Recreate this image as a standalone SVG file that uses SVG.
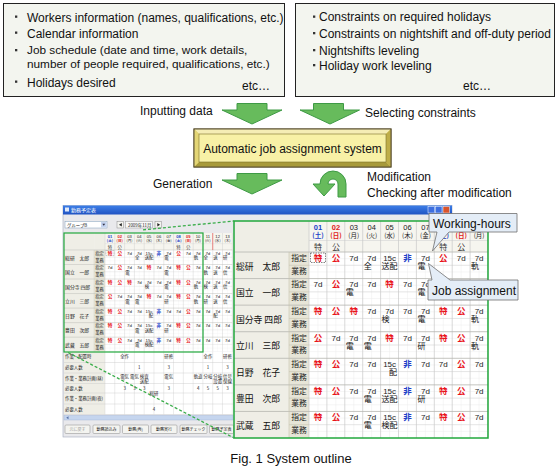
<svg xmlns="http://www.w3.org/2000/svg" width="558" height="469" viewBox="0 0 558 469">
<style>
.t{font-family:"Liberation Sans",Arial,sans-serif;font-size:12px;fill:#111}
.box{fill:#f3f5ef;stroke:#222;stroke-width:1}
.bul{fill:#333}
.arr{fill:#67bb5c;stroke:#3e9a45;stroke-width:1}
.nm{font-family:"Noto Sans CJK JP",sans-serif;font-size:8.8px;fill:#111}
.lb{font-family:"Noto Sans CJK JP",sans-serif;font-size:7.8px;fill:#222;text-anchor:middle}
.d{font-family:"Liberation Sans","Noto Sans CJK JP",sans-serif;font-size:8px;fill:#222;text-anchor:middle}
.j{font-family:"Noto Sans CJK JP",sans-serif;font-size:8px;fill:#111}
.r{fill:#e8141b;font-weight:bold;font-family:"Noto Sans CJK JP",sans-serif;font-size:8.5px}
.b{fill:#1d3fc8;font-weight:bold;font-family:"Noto Sans CJK JP",sans-serif;font-size:8.5px}
.hn{font-family:"Liberation Sans",sans-serif;font-size:7.5px;fill:#222;text-anchor:middle}
.hd{font-family:"Noto Sans CJK JP",sans-serif;font-size:6.5px;fill:#222;text-anchor:middle}
.sb{fill:#1d3fc8;font-weight:bold}
.sr{fill:#e01b1b;font-weight:bold}
.tiny{font-family:"Noto Sans CJK JP",sans-serif;font-size:4.4px;fill:#222}
.tc{text-anchor:middle}
.co{fill:#e4edf7;stroke:#707070;stroke-width:0.8}
.gl{fill:none;stroke:#22a83c;stroke-width:1.5}
.dash{fill:none;stroke:#3aad4a;stroke-width:1.3;stroke-dasharray:3 2}
.btn{fill:#f4f4f0;stroke:#8a8a8a;stroke-width:0.5}
</style>
<defs>
<linearGradient id="tb" x1="0" y1="0" x2="0" y2="1"><stop offset="0" stop-color="#3d7fe8"/><stop offset="1" stop-color="#1f52c2"/></linearGradient>
<clipPath id="cBig"><rect x="234" y="221" width="254" height="217"/></clipPath>
<clipPath id="cTh"><rect x="64" y="233" width="169" height="119"/></clipPath>
<g id="tbl">
 <rect x="234" y="221" width="307.7" height="217" fill="#fff"/>
 <rect x="234" y="221" width="55" height="217" fill="#efeee6"/>
 <rect x="289" y="221" width="20" height="31" fill="#efeee6"/>
 <rect x="289" y="252" width="20" height="186" fill="#e7e5d7"/>
 <rect x="309" y="221" width="232.7" height="31" fill="#f6f5ef"/>
 <path fill="none" stroke="#ececec" stroke-width="0.5" d="M317.95 252V438M335.85 252V438M353.75 252V438M371.65 252V438M389.55 252V438M407.45 252V438M425.35 252V438M443.25 252V438M461.15 252V438M479.05 252V438M496.95 252V438M514.85 252V438M532.75 252V438M309 258.64H541.7M309 271.93H541.7M309 285.21H541.7M309 298.5H541.7M309 311.78H541.7M309 325.07H541.7M309 338.35H541.7M309 351.64H541.7M309 364.93H541.7M309 378.22H541.7M309 391.5H541.7M309 404.79H541.7M309 418.07H541.7M309 431.36H541.7"/>
 <path fill="none" stroke="#d4d4d4" stroke-width="0.6" d="M309 265.29H541.7M309 291.86H541.7M309 318.43H541.7M309 345H541.7M309 371.57H541.7M309 398.14H541.7M309 424.71H541.7M309 240.5H541.7"/>
 <path fill="none" stroke="#c8c8c8" stroke-width="0.7" d="M309 221V438M326.9 221V438M344.8 221V438M362.7 221V438M380.6 221V438M398.5 221V438M416.4 221V438M434.3 221V438M452.2 221V438M470.1 221V438M488 221V438M505.9 221V438M523.8 221V438M541.7 221V438"/>
 <path fill="none" stroke="#b5b5b0" stroke-width="0.8" d="M234 252H541.7M234 278.57H541.7M234 305.14H541.7M234 331.71H541.7M234 358.29H541.7M234 384.86H541.7M234 411.43H541.7"/>
 <path fill="none" stroke="#c8c5b0" stroke-width="0.6" d="M289 252V438M289 265.29H309M289 291.86H309M289 318.43H309M289 345H309M289 371.57H309M289 398.14H309M289 424.71H309"/>
 <path d="M505.9 221V252" stroke="#e33" stroke-width="1"/>
 <text class="hn" y="230"><tspan x="318" class="sb">01</tspan><tspan x="335.9" class="sr">02</tspan><tspan x="353.8">03</tspan><tspan x="371.7">04</tspan><tspan x="389.6">05</tspan><tspan x="407.5">06</tspan><tspan x="425.4">07</tspan><tspan x="443.3" class="sb">08</tspan><tspan x="461.2" class="sr">09</tspan><tspan x="479.1">10</tspan><tspan x="497">11</tspan><tspan x="514.9">12</tspan><tspan x="532.8">13</tspan></text>
 <text class="hd" y="238"><tspan x="318" class="sb">(土)</tspan><tspan x="335.9" class="sr">(日)</tspan><tspan x="353.8">(月)</tspan><tspan x="371.7">(火)</tspan><tspan x="389.6">(水)</tspan><tspan x="407.5">(木)</tspan><tspan x="425.4">(金)</tspan><tspan x="443.3" class="sb">(土)</tspan><tspan x="461.2" class="sr">(日)</tspan><tspan x="479.1">(月)</tspan><tspan x="497">(火)</tspan><tspan x="514.9">(水)</tspan><tspan x="532.8">(木)</tspan></text>
 <text class="d" y="249.5" style="fill:#333"><tspan x="318">特</tspan><tspan x="335.9">公</tspan><tspan x="443.3">特</tspan><tspan x="461.2">公</tspan></text>
 <rect x="310.5" y="253" width="15" height="9.5" fill="none" stroke="#333" stroke-width="0.6" stroke-dasharray="1.5 1"/>
 <g transform="translate(0,252)">
  <text class="nm" x="236" y="17.5">総研　太郎</text><text class="lb" x="299" y="8.8">指定</text><text class="lb" x="299" y="21.5">業務</text>
  <text class="d" y="8.8"><tspan class="r" x="318">特</tspan><tspan class="r" x="335.9">公</tspan><tspan x="353.8">7d</tspan><tspan x="371.7">7d</tspan><tspan x="389.6">15c</tspan><tspan class="b" x="407.5">非</tspan><tspan x="425.4">7d</tspan><tspan class="r" x="443.3">公</tspan><tspan x="461.2">7d</tspan><tspan x="479.1">7d</tspan><tspan x="497">7d</tspan><tspan x="514.9">7d</tspan><tspan x="532.8">7d</tspan></text>
  <text class="j" y="16.8"><tspan x="363.7">全</tspan><tspan x="381.6">送配</tspan><tspan x="417.4">電</tspan><tspan x="471.1">軌</tspan><tspan x="489">全</tspan><tspan x="506.9">送</tspan><tspan x="524.8">研</tspan></text>
 </g>
 <g transform="translate(0,278.57)">
  <text class="nm" x="236" y="17.5">国立　一郎</text><text class="lb" x="299" y="8.8">指定</text><text class="lb" x="299" y="21.5">業務</text>
  <text class="d" y="8.8"><tspan x="318">7d</tspan><tspan class="r" x="335.9">公</tspan><tspan x="353.8">7d</tspan><tspan x="371.7">7d</tspan><tspan class="r" x="389.6">特</tspan><tspan x="407.5">7d</tspan><tspan x="425.4">7d</tspan><tspan class="r" x="443.3">特</tspan><tspan class="r" x="461.2">公</tspan><tspan x="479.1">7d</tspan><tspan x="497">7d</tspan><tspan x="514.9">7d</tspan><tspan x="532.8">7d</tspan></text>
  <text class="j" y="16.8"><tspan x="345.8">電</tspan><tspan x="417.4">電</tspan><tspan x="489">軌</tspan><tspan x="506.9">送</tspan><tspan x="524.8">信</tspan></text>
 </g>
 <g transform="translate(0,305.14)">
  <text class="nm" x="236" y="17.5">国分寺 四郎</text><text class="lb" x="299" y="8.8">指定</text><text class="lb" x="299" y="21.5">業務</text>
  <text class="d" y="8.8"><tspan class="r" x="318">特</tspan><tspan class="r" x="335.9">公</tspan><tspan class="r" x="353.8">特</tspan><tspan x="371.7">7d</tspan><tspan x="389.6">7d</tspan><tspan x="407.5">7d</tspan><tspan x="425.4">7d</tspan><tspan class="r" x="443.3">特</tspan><tspan class="r" x="461.2">公</tspan><tspan x="479.1">7d</tspan><tspan x="497">7d</tspan><tspan x="514.9">7d</tspan><tspan x="532.8">7d</tspan></text>
  <text class="j" y="16.8"><tspan x="381.6">検</tspan><tspan x="417.4">電</tspan><tspan x="471.1">軌</tspan><tspan x="489">検</tspan><tspan x="506.9">送</tspan><tspan x="524.8">信</tspan></text>
 </g>
 <g transform="translate(0,331.71)">
  <text class="nm" x="236" y="17.5">立川　三郎</text><text class="lb" x="299" y="8.8">指定</text><text class="lb" x="299" y="21.5">業務</text>
  <text class="d" y="8.8"><tspan class="r" x="318">公</tspan><tspan x="335.9">7d</tspan><tspan x="353.8">7d</tspan><tspan x="371.7">7d</tspan><tspan class="r" x="389.6">特</tspan><tspan x="407.5">7d</tspan><tspan x="425.4">7d</tspan><tspan class="r" x="443.3">特</tspan><tspan class="r" x="461.2">公</tspan><tspan x="479.1">7d</tspan><tspan x="497">7d</tspan><tspan x="514.9">7d</tspan><tspan x="532.8">7d</tspan></text>
  <text class="j" y="16.8"><tspan x="345.8">電</tspan><tspan x="363.7">電</tspan><tspan x="417.4">研</tspan><tspan x="471.1">軌</tspan><tspan x="489">研</tspan><tspan x="506.9">送</tspan><tspan x="524.8">信</tspan></text>
 </g>
 <g transform="translate(0,358.29)">
  <text class="nm" x="236" y="17.5">日野　花子</text><text class="lb" x="299" y="8.8">指定</text><text class="lb" x="299" y="21.5">業務</text>
  <text class="d" y="8.8"><tspan class="r" x="318">特</tspan><tspan class="r" x="335.9">公</tspan><tspan x="353.8">7d</tspan><tspan x="371.7">7d</tspan><tspan x="389.6">15c</tspan><tspan class="b" x="407.5">非</tspan><tspan x="425.4">7d</tspan><tspan x="443.3">7d</tspan><tspan class="r" x="461.2">公</tspan><tspan x="479.1">7d</tspan><tspan x="497">7d</tspan><tspan x="514.9">7d</tspan><tspan x="532.8">7d</tspan></text>
  <text class="j" y="16.8"><tspan x="389">配</tspan><tspan x="506.9">配</tspan></text>
 </g>
 <g transform="translate(0,384.86)">
  <text class="nm" x="236" y="17.5">豊田　次郎</text><text class="lb" x="299" y="8.8">指定</text><text class="lb" x="299" y="21.5">業務</text>
  <text class="d" y="8.8"><tspan class="r" x="318">特</tspan><tspan class="r" x="335.9">公</tspan><tspan x="353.8">7d</tspan><tspan x="371.7">7d</tspan><tspan x="389.6">15c</tspan><tspan class="b" x="407.5">非</tspan><tspan x="425.4">7d</tspan><tspan class="r" x="443.3">特</tspan><tspan class="r" x="461.2">公</tspan><tspan x="479.1">7d</tspan><tspan x="497">7d</tspan><tspan x="514.9">7d</tspan><tspan x="532.8">7d</tspan></text>
  <text class="j" y="16.8"><tspan x="363.7">電</tspan><tspan x="381.6">送配</tspan><tspan x="417.4">研</tspan></text>
 </g>
 <g transform="translate(0,411.43)">
  <text class="nm" x="236" y="17.5">武蔵　五郎</text><text class="lb" x="299" y="8.8">指定</text><text class="lb" x="299" y="21.5">業務</text>
  <text class="d" y="8.8"><tspan class="r" x="318">特</tspan><tspan class="r" x="335.9">公</tspan><tspan x="353.8">7d</tspan><tspan x="371.7">7d</tspan><tspan x="389.6">15c</tspan><tspan class="b" x="407.5">非</tspan><tspan x="425.4">7d</tspan><tspan class="r" x="443.3">特</tspan><tspan class="r" x="461.2">公</tspan><tspan x="479.1">7d</tspan><tspan x="497">7d</tspan><tspan x="514.9">7d</tspan><tspan x="532.8">7d</tspan></text>
  <text class="j" y="16.8"><tspan x="363.7">電</tspan><tspan x="381.6">検配</tspan></text>
 </g>
</g>
</defs>
<rect width="558" height="469" fill="#fff"/>

<g id="input-data">
 <rect class="box" x="3.5" y="3.5" width="281" height="93"/>
 <rect class="bul" x="15" y="15.5" width="2.3" height="2.3"/>
 <rect class="bul" x="15" y="31.5" width="2.3" height="2.3"/>
 <rect class="bul" x="15" y="49" width="2.3" height="2.3"/>
 <rect class="bul" x="15" y="80.5" width="2.3" height="2.3"/>
 <text class="t" x="27" y="21.5">Workers information (names, qualifications, etc.)</text>
 <text class="t" x="27" y="37.5">Calendar information</text>
 <text class="t" x="27" y="54.3" style="font-size:11.8px">Job schedule (date and time, work details,</text>
 <text class="t" x="27" y="68.3" style="font-size:11.8px">number of people required, qualifications, etc.)</text>
 <text class="t" x="27" y="86.5">Holidays desired</text>
 <text class="t" x="242" y="89.5">etc…</text>
</g>

<g id="constraints">
 <rect class="box" x="295.5" y="3.5" width="259" height="93"/>
 <rect class="bul" x="313" y="15.5" width="2.3" height="2.3"/>
 <rect class="bul" x="313" y="32" width="2.3" height="2.3"/>
 <rect class="bul" x="313" y="49" width="2.3" height="2.3"/>
 <rect class="bul" x="313" y="64" width="2.3" height="2.3"/>
 <text class="t" x="319" y="21">Constraints on required holidays</text>
 <text class="t" x="319" y="37.5">Constraints on nightshift and off-duty period</text>
 <text class="t" x="319" y="54.5">Nightshifts leveling</text>
 <text class="t" x="319" y="69.5">Holiday work leveling</text>
 <text class="t" x="463" y="90">etc…</text>
</g>

<g id="system">
 <rect x="194" y="129" width="197" height="38" fill="#d8c85a" stroke="#5a5030" stroke-width="1"/>
 <polygon points="194,129 391,129 386,134 199,134" fill="#f5edb5"/>
 <polygon points="194,167 391,167 386,162 199,162" fill="#a89a3a"/>
 <polygon points="194,129 199,134 199,162 194,167" fill="#e4d676"/>
 <polygon points="391,129 386,134 386,162 391,167" fill="#bfae48"/>
 <rect x="194" y="129" width="197" height="38" fill="none" stroke="#5a5030" stroke-width="1"/>
 <rect x="199" y="134" width="187" height="28" fill="#f8f1a6" stroke="#7a6e2a" stroke-width="0.6"/>
 <text class="t" x="292.5" y="152.5" text-anchor="middle">Automatic job assignment system</text>
</g>

<g id="labels">
 <text class="t" x="140" y="115">Inputting data</text>
 <text class="t" x="365" y="117">Selecting constraints</text>
 <text class="t" x="153" y="188">Generation</text>
 <text class="t" x="367" y="181">Modification</text>
 <text class="t" x="367" y="197">Checking after modification</text>
</g>

<g id="screenshot">
 <rect x="63" y="205.5" width="389" height="231.5" fill="#e9e9ec" stroke="#a0a8bc" stroke-width="0.6"/>
 <rect x="63" y="205.5" width="389" height="9" fill="url(#tb)"/>
 <rect x="65" y="207.5" width="4" height="4" fill="#fff" opacity="0.85"/>
 <text x="71" y="212.3" style="font-family:'Noto Sans CJK JP',sans-serif;font-size:5px;fill:#fff">勤務予定表</text>
 <rect x="428" y="206.5" width="6.5" height="6.5" fill="#3d6fe0" stroke="#fff" stroke-width="0.5"/>
 <rect x="435.5" y="206.5" width="6.5" height="6.5" fill="#3d6fe0" stroke="#fff" stroke-width="0.5"/>
 <rect x="443" y="206.5" width="6.5" height="6.5" fill="#d9542c" stroke="#fff" stroke-width="0.5"/>
 <rect x="65" y="221.5" width="42" height="6.5" fill="#fff" stroke="#7f9db9" stroke-width="0.5"/>
 <rect x="101" y="222" width="5.5" height="5.5" fill="#c4d3f0"/>
 <polygon points="102.3,223.8 105.2,223.8 103.75,225.8" fill="#334"/>
 <text class="tiny" x="67" y="226.5">グループB</text>
 <rect class="btn" x="117" y="221.5" width="6.5" height="6.5"/>
 <polygon points="121.8,223 121.8,226.5 119,224.75" fill="#222"/>
 <rect x="125.5" y="221.5" width="27" height="6.5" fill="#f8f8f8" stroke="#999" stroke-width="0.5"/>
 <text class="tiny" x="128" y="226.5">2009年11月</text>
 <rect class="btn" x="155" y="221.5" width="6.5" height="6.5"/>
 <polygon points="157.3,223 157.3,226.5 160.1,224.75" fill="#222"/>
 <g clip-path="url(#cTh)"><use href="#tbl" transform="translate(-64,112.11) scale(0.547)"/></g>
 <rect x="64" y="352" width="169" height="62.5" fill="#fff"/>
 <rect x="64" y="352" width="41" height="62.5" fill="#efeee6"/>
 <path fill="none" stroke="#d0d0d0" stroke-width="0.4" d="M105 352V414.5M114.79 352V414.5M124.58 352V414.5M134.37 352V414.5M144.16 352V414.5M153.95 352V414.5M163.74 352V414.5M173.53 352V414.5M183.32 352V414.5M193.11 352V414.5M202.9 352V414.5M212.69 352V414.5M222.48 352V414.5M232.27 352V414.5"/>
 <path fill="none" stroke="#c4c4c4" stroke-width="0.4" d="M64 362.5H233M64 373H233M64 383.5H233M64 393H233M64 404H233M64 414.5H233"/>
 <text class="tiny" x="65" y="358.4">作業・配置時</text>
 <text class="tiny" x="65" y="369">必要人数</text>
 <text class="tiny" x="65" y="380">作業・業務計画(昼)</text>
 <text class="tiny" x="65" y="389.5">必要人数</text>
 <text class="tiny" x="65" y="400">作業・業務計画(夜)</text>
 <text class="tiny" x="65" y="410.5">必要人数</text>
 <text class="tiny tc" y="358.4"><tspan x="124.6">全作</tspan><tspan x="168.7">研修</tspan><tspan x="207.9">全作</tspan><tspan x="227.5">研修</tspan></text>
 <text class="tiny tc" y="369"><tspan x="139.3">1</tspan><tspan x="168.7">3</tspan><tspan x="207.9">1</tspan><tspan x="227.5">3</tspan></text>
 <text class="tiny tc" y="377.5"><tspan x="124.6">電気</tspan><tspan x="134.4">電気</tspan><tspan x="144.2">検査</tspan><tspan x="168.7">電気</tspan><tspan x="198.1">軌道</tspan><tspan x="207.9">分岐</tspan><tspan x="217.7">分岐</tspan><tspan x="227.5">信号</tspan></text>
 <text class="tiny tc" y="382.5"><tspan x="144.2">送配</tspan><tspan x="217.7">設置</tspan><tspan x="227.5">保線</tspan></text>
 <text class="tiny tc" y="389.5"><tspan x="124.6">3</tspan><tspan x="134.4">3</tspan><tspan x="144.2">3</tspan><tspan x="168.7">3</tspan><tspan x="198.1">4</tspan><tspan x="207.9">5</tspan><tspan x="217.7">5</tspan><tspan x="227.5">3</tspan></text>
 <text class="tiny tc" x="154" y="395">総研</text>
 <text class="tiny tc" x="154" y="410.5">4</text>
 <rect x="64" y="415.5" width="169" height="4.5" fill="#c5d5ee" stroke="#9fb3d8" stroke-width="0.4"/>
 <polygon points="68.5,416.3 68.5,419.2 66.2,417.75" fill="#5570a8"/>
 <rect class="btn" x="65" y="425" width="25" height="8.5" rx="1"/>
 <rect class="btn" x="93" y="425" width="27" height="8.5" rx="1"/>
 <rect class="btn" x="122.5" y="425" width="26" height="8.5" rx="1"/>
 <rect class="btn" x="151" y="425" width="26" height="8.5" rx="1"/>
 <rect class="btn" x="180" y="425" width="27" height="8.5" rx="1"/>
 <rect class="btn" x="209.5" y="425" width="24" height="8.5" rx="1"/>
 <text class="tiny tc" y="430.8" style="font-size:4px"><tspan x="77.5" style="fill:#999">元に戻す</tspan><tspan x="106.5">勤務読込み</tspan><tspan x="135.5">勤務(再)</tspan><tspan x="164">勤務実行</tspan><tspan x="193.5">勤務チェック</tspan><tspan x="221.5">勤務予定表</tspan></text>
 <rect class="gl" x="64" y="233" width="139" height="119" style="stroke-width:1.2"/>
</g>

<g id="zoomed-table">
 <use href="#tbl" clip-path="url(#cBig)"/>
 <rect class="gl" x="234" y="221" width="254" height="217"/>
</g>

<g id="connectors">
 <polygon class="arr" points="237,103.5 267,103.5 267,110 282,110 252,124 222,110 237,110"/>
 <polygon class="arr" points="313.5,103.5 343.5,103.5 343.5,110 359.5,110 330,124 300,110 313.5,110"/>
 <polygon class="arr" points="237,173.5 267,173.5 267,180 282,180 252,194 222,180 237,180"/>
 <path class="arr" d="M338,197 L338,184 A5,5 0 0 0 328,184 L335,184 L324,196 L313,184 L320,184 A13,13 0 0 1 346,184 L346,197 Z"/>
 <path class="dash" d="M143,229.8 L234,221"/>
 <path class="dash" d="M68,352.5 L234,438"/>
</g>

<g id="callout-hours">
 <path class="co" d="M429,213.5 H517 V232 H449 L432.5,251 L437,232 H429 Z"/>
 <text class="t" x="433" y="227.5">Working-hours</text>
</g>
<g id="callout-job">
 <path class="co" d="M428,280 H432 L428.5,263.5 L450,280 H518 V300 H428 Z"/>
 <text class="t" x="432" y="294.5">Job assignment</text>
</g>

<text id="caption" class="t" x="291" y="463" text-anchor="middle" style="font-size:13px">Fig. 1 System outline</text>
</svg>
